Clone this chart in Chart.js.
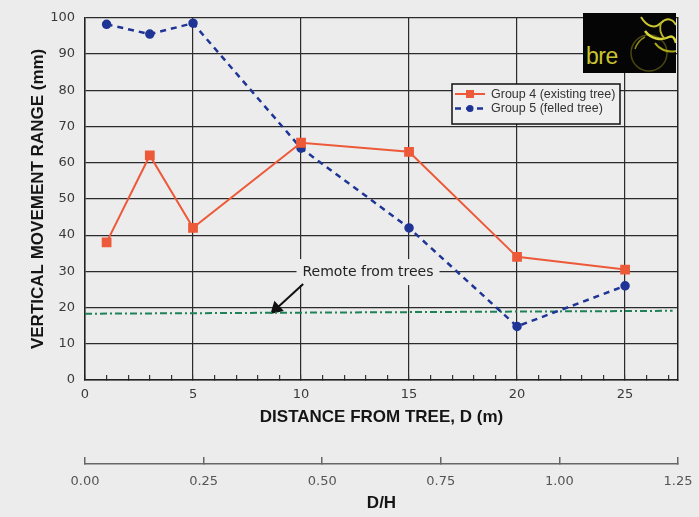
<!DOCTYPE html>
<html>
<head>
<meta charset="utf-8">
<script src="https://cdn.jsdelivr.net/npm/chart.js@4.4.1/dist/chart.umd.min.js"></script>
<style>
  body { margin: 0; background: #ececec; }
  #wrap { position: relative; width: 699px; height: 517px; }
  #logo { position: absolute; left: 583px; top: 13px; width: 93px; height: 60px; background: #050505; overflow: hidden; }
  #logo span { position: absolute; left: 3px; bottom: 3px; font: 23px "Liberation Sans", Arial, sans-serif; color: #c9c431; letter-spacing: -0.5px; }
  #logo svg { position: absolute; left: 0; top: 0; }
</style>
</head>
<body>
<div id="wrap">
  <canvas id="myChart"></canvas>
  <div id="logo">
    <svg width="93" height="60">
      <circle cx="66" cy="40" r="18" stroke="#4a4810" stroke-width="1.5" fill="none"/>
      <path d="M58 4 C64 14 72 16 78 10 C84 4 90 6 93 12" stroke="#c9c431" stroke-width="2" fill="none"/>
      <path d="M62 18 C68 26 78 28 86 24 C90 22 92 26 93 30" stroke="#d8d43c" stroke-width="2.5" fill="none"/>
      <path d="M78 10 C76 16 78 22 82 26" stroke="#b8b520" stroke-width="1.8" fill="none"/>
      <path d="M72 30 C76 36 84 40 93 38" stroke="#a9a61c" stroke-width="2" fill="none"/>
      <path d="M52 36 C54 30 58 26 62 24" stroke="#8d8a18" stroke-width="1.5" fill="none"/>
    </svg>
    <span>bre</span>
  </div>
</div>
<script>
// values
const distance = [1, 3, 5, 10, 15, 20, 25];
const group4 = [38, 62, 42, 65.5, 63, 34, 30.5];
const group5 = [98.2, 95.5, 98.5, 64, 42, 14.8, 26];

const remoteX = [0, 27.2];
const remoteY = [18.3, 19.1];

const arrowX = [10.1, 8.85];
const arrowY = [26.5, 19.7];

const noteText = 'Remote from trees';
const noteAt = [13.1, 29.8];

const seriesNames = ['Group 4 (existing tree)', 'Group 5 (felled tree)'];

const xMax = 27.45;      // D axis end
const dhMax = 1.25;      // D/H axis end

const bg = '#ececec';
const gridCol = '#2b2b2b';

function pts(xs, ys) {
    return xs.map((x, i) => ({ x: x, y: ys[i] }));
}

// note box over the grid, under the lines
const notePlugin = {
    id: 'note',
    beforeDatasetsDraw(chart) {
        const c = chart.ctx;
        const px = chart.scales.x.getPixelForValue(noteAt[0]);
        const py = chart.scales.y.getPixelForValue(noteAt[1]);
        c.save();
        c.font = '14px "DejaVu Sans"';
        const w = c.measureText(noteText).width;
        c.fillStyle = bg;
        c.fillRect(px - w / 2 - 6, py - 13, w + 12, 26);
        c.fillStyle = '#222';
        c.textAlign = 'center';
        c.textBaseline = 'middle';
        c.fillText(noteText, px, py);
        c.restore();
    }
};

// boxed legend in the upper right of the plot
const legendBox = {
    id: 'legendBox',
    afterDraw(chart) {
        const c = chart.ctx;
        const x0 = 452, y0 = 84, w = 168, h = 40;
        c.save();
        c.fillStyle = '#efefef';
        c.fillRect(x0, y0, w, h);
        c.strokeStyle = '#111';
        c.lineWidth = 1.5;
        c.strokeRect(x0, y0, w, h);
        c.font = '12.5px "Liberation Sans", Arial, sans-serif';
        c.textBaseline = 'middle';
        for (let i = 0; i < 2; i++) {
            const ds = chart.data.datasets[i];
            const yy = y0 + 10 + i * 14.5;
            c.strokeStyle = ds.borderColor;
            c.lineWidth = ds.borderWidth;
            c.setLineDash(ds.borderDash || []);
            c.beginPath();
            c.moveTo(x0 + 3, yy);
            c.lineTo(x0 + 33, yy);
            c.stroke();
            c.setLineDash([]);
            c.fillStyle = ds.backgroundColor;
            c.beginPath();
            if (ds.pointStyle === 'rect') {
                c.rect(x0 + 18 - 4, yy - 4, 8, 8);
            } else {
                c.arc(x0 + 18, yy, 3.5, 0, Math.PI * 2);
            }
            c.fill();
            c.fillStyle = '#333';
            c.fillText(seriesNames[i], x0 + 39, yy + 0.5);
        }
        c.restore();
    }
};

function noSidePad(s) {
    s.paddingLeft = 0;
    s.paddingRight = 0;
}

const ctx = document.getElementById('myChart');

new Chart(ctx, {
    type: 'line',
    data: {
        datasets: [
            {
                label: seriesNames[0],
                data: pts(distance, group4),
                borderColor: '#ec5a3a',
                backgroundColor: '#ec5a3a',
                borderWidth: 2,
                pointStyle: 'rect',
                pointRadius: 5.5,
                pointHoverRadius: 5.5,
                tension: 0
            },
            {
                label: seriesNames[1],
                data: pts(distance, group5),
                borderColor: '#1f3596',
                backgroundColor: '#1f3596',
                borderWidth: 2.5,
                borderDash: [6, 5],
                pointStyle: 'circle',
                pointRadius: 3.5,
                pointHoverRadius: 3.5,
                tension: 0
            },
            {
                label: 'remote',
                data: pts(remoteX, remoteY),
                borderColor: '#1f8156',
                borderWidth: 2,
                borderDash: [7, 3, 2, 3],
                pointRadius: 0
            },
            {
                label: 'arrow',
                data: pts(arrowX, arrowY),
                borderColor: '#111',
                backgroundColor: '#111',
                borderWidth: 2,
                pointStyle: 'triangle',
                pointRadius: [0, 6],
                pointRotation: 227
            }
        ]
    },
    options: {
        responsive: true,
        maintainAspectRatio: false,
        animation: false,
        layout: { padding: { top: 14, left: 0, right: 0, bottom: 0 } },
        plugins: {
            legend: { display: false },
            tooltip: { enabled: false }
        },
        scales: {
            x: {
                type: 'linear',
                position: 'bottom',
                weight: 0,
                min: 0,
                max: xMax,
                afterFit: (s) => { s.height = 84; noSidePad(s); },
                grid: {
                    color: (c) => (c.tick && c.tick.value % 5 === 0) ? gridCol : 'rgba(0,0,0,0)',
                    lineWidth: 1.2,
                    tickColor: '#333',
                    tickLength: -5,
                    drawTicks: true
                },
                border: { display: true, color: '#222', width: 1.5 },
                ticks: {
                    stepSize: 1,
                    includeBounds: false,
                    autoSkip: false,
                    maxRotation: 0,
                    padding: 12,
                    color: '#3a3a3a',
                    font: { family: 'DejaVu Sans', size: 13 },
                    callback: (v) => v % 5 === 0 ? String(v) : ''
                },
                title: {
                    display: true,
                    text: 'DISTANCE FROM TREE, D (m)',
                    color: '#151515',
                    font: { family: 'Liberation Sans', size: 17, weight: 'bold' },
                    padding: { top: 0, bottom: 36.8 }
                }
            },
            x2: {
                type: 'linear',
                position: 'bottom',
                weight: 1,
                min: 0,
                max: dhMax,
                afterFit: (s) => { s.height = 53; noSidePad(s); },
                grid: {
                    drawOnChartArea: false,
                    color: '#666',
                    tickColor: '#666',
                    lineWidth: 1.5,
                    tickLength: -7
                },
                border: { display: true, color: '#666', width: 1.5 },
                ticks: {
                    stepSize: 0.25,
                    autoSkip: false,
                    maxRotation: 0,
                    padding: 17,
                    color: '#555',
                    font: { family: 'DejaVu Sans', size: 13 },
                    callback: (v) => v.toFixed(2)
                },
                title: {
                    display: true,
                    text: 'D/H',
                    color: '#151515',
                    font: { family: 'Liberation Sans', size: 17, weight: 'bold' },
                    padding: { top: 0, bottom: 3.8 }
                }
            },
            y: {
                min: 0,
                max: 100,
                afterFit: (s) => { s.width = 85; },
                grid: { color: gridCol, lineWidth: 1.2, drawTicks: false },
                border: { display: true, color: '#222', width: 1.5 },
                ticks: {
                    stepSize: 10,
                    padding: 10,
                    color: '#3a3a3a',
                    font: { family: 'DejaVu Sans', size: 13 }
                },
                title: {
                    display: true,
                    text: 'VERTICAL MOVEMENT RANGE (mm)',
                    color: '#151515',
                    font: { family: 'Liberation Sans', size: 17, weight: 'bold' },
                    padding: { top: 27.8, bottom: 0 }
                }
            },
            yr: {
                position: 'right',
                min: 0,
                max: 100,
                afterFit: (s) => { s.width = 21; },
                grid: { drawOnChartArea: false, drawTicks: false },
                border: { display: true, color: '#222', width: 1.5 },
                ticks: { display: false }
            }
        }
    },
    plugins: [notePlugin, legendBox]
});
</script>
</body>
</html>
